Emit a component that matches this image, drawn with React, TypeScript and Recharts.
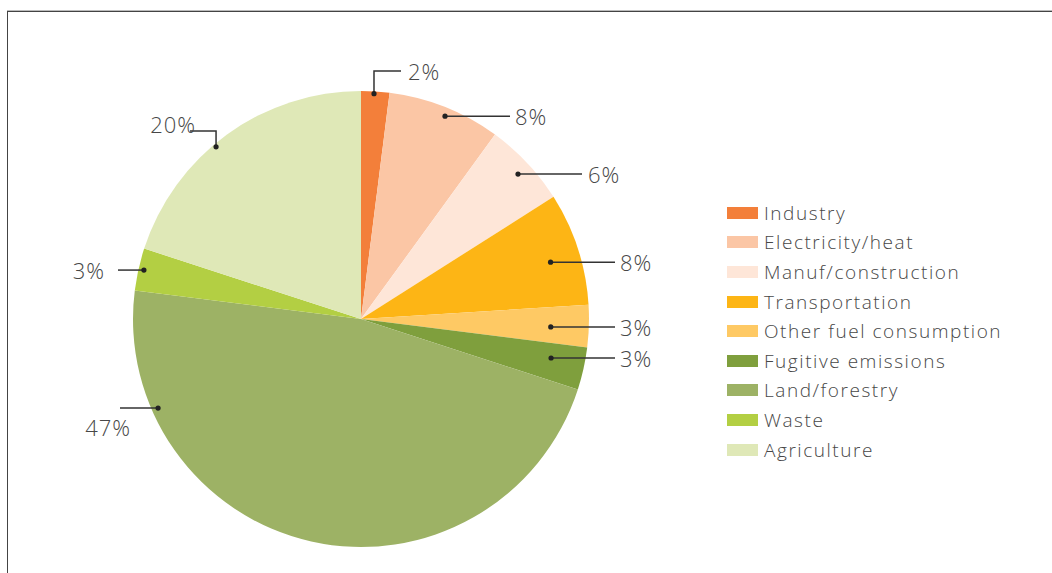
import { Legend, Pie, PieChart } from 'recharts';

const sectors = [
  'Industry',
  'Electricity/heat',
  'Manuf/construction',
  'Transportation',
  'Other fuel consumption',
  'Fugitive emissions',
  'Land/forestry',
  'Waste',
  'Agriculture',
];
const shares = [2, 8, 6, 8, 3, 3, 47, 3, 20];
const colors = [
  '#f37f3a',
  '#fbc6a5',
  '#fee6d8',
  '#fdb515',
  '#fec964',
  '#7f9f3d',
  '#9db265',
  '#b3cf43',
  '#dfe8b7',
];

const data = sectors.map((name, i) => ({ name, value: shares[i], fill: colors[i] }));

const RAD = Math.PI / 180;
const FONT = '"Open Sans", "Liberation Sans", Arial, sans-serif';
const TEXT = '#474747';

// leader layout per slice: dot radius factor, angle tweak, line end (offset from centre)
type Lead = { r: number; da: number; ex: number; ey?: number; tx: number; ty?: number; anchor: 'start' | 'end' };
const leads: Lead[] = [
  { r: 0.99, da: 0.3, ex: 40, ey: -248, tx: 47, anchor: 'start' },
  { r: 0.963, da: -0.9, ex: 149, tx: 154, anchor: 'start' },
  { r: 0.937, da: -0.5, ex: 221, tx: 227, anchor: 'start' },
  { r: 0.868, da: -1.3, ex: 254, tx: 259, anchor: 'start' },
  { r: 0.833, da: -0.6, ex: 254, tx: 259, anchor: 'start' },
  { r: 0.851, da: 1, ex: 254, tx: 259, anchor: 'start' },
  { r: 0.972, da: -53.7, ex: -241, tx: -230, ty: 19, anchor: 'end' },
  { r: 0.976, da: -0.1, ex: -243, tx: -256, anchor: 'end' },
  { r: 0.987, da: 4.1, ex: -171, ey: -188, tx: -165, ty: -7, anchor: 'end' },
];

function renderLabel(props: any) {
  const { cx, cy, midAngle, outerRadius, index, value } = props;
  const l = leads[index];
  const a = (midAngle + l.da) * RAD;
  const dx = cx + outerRadius * l.r * Math.cos(-a);
  const dy = cy + outerRadius * l.r * Math.sin(-a);
  const ex = cx + l.ex;
  let path: string;
  let ty: number;
  if (l.ey !== undefined) {
    const ey = cy + l.ey;
    path = `M${dx},${dy}V${ey}H${ex}`;
    ty = ey + (l.ty ?? 0);
  } else {
    path = `M${dx},${dy}H${ex}`;
    ty = dy + (l.ty ?? 0);
  }
  return (
    <g key={`lab-${index}`}>
      <path d={path} stroke="#333" strokeWidth={1.5} fill="none" />
      <circle cx={dx} cy={dy} r={2.6} fill="#222" />
      <text
        x={cx + l.tx}
        y={ty}
        textAnchor={l.anchor}
        dominantBaseline="central"
        fontSize={22}
        fontFamily={FONT}
        fontWeight={300}
        letterSpacing={1}
        fill={TEXT}
      >
        {`${value}%`}
      </text>
    </g>
  );
}

function LegendList() {
  return (
    <div style={{ fontFamily: FONT, fontWeight: 300, fontSize: 19, letterSpacing: 1.55, color: TEXT }}>
      {data.map((d) => (
        <div key={d.name} style={{ display: 'flex', alignItems: 'center', height: 29.6 }}>
          <span style={{ width: 31, height: 12, background: d.fill, marginRight: 6, display: 'inline-block' }} />
          <span>{d.name}</span>
        </div>
      ))}
    </div>
  );
}

export default function App() {
  return (
    <div style={{ position: 'absolute', left: 0, top: 0, width: 1052, height: 573, background: '#fff' }}>
      <div style={{ position: 'absolute', left: 7, top: 10, right: 0, height: 1, background: '#bbb' }} />
      <div style={{ position: 'absolute', left: 7, top: 11, right: 0, height: 1, background: '#444' }} />
      <div style={{ position: 'absolute', left: 7, top: 11, width: 1, bottom: 0, background: '#444' }} />
      <PieChart
        width={1052}
        height={573}
        margin={{ top: 0, right: 0, bottom: 0, left: 0 }}
        style={{ position: 'absolute', left: 0, top: 0 }}
      >
        <Pie
          data={data}
          dataKey="value"
          nameKey="name"
          cx={361}
          cy={319}
          outerRadius={228}
          startAngle={90}
          endAngle={-270}
          stroke="none"
          labelLine={false}
          label={renderLabel}
          isAnimationActive={false}
        />
        <Legend
          layout="vertical"
          content={<LegendList />}
          wrapperStyle={{ left: 727, top: 198, width: 320, bottom: 'auto' }}
        />
      </PieChart>
    </div>
  );
}
